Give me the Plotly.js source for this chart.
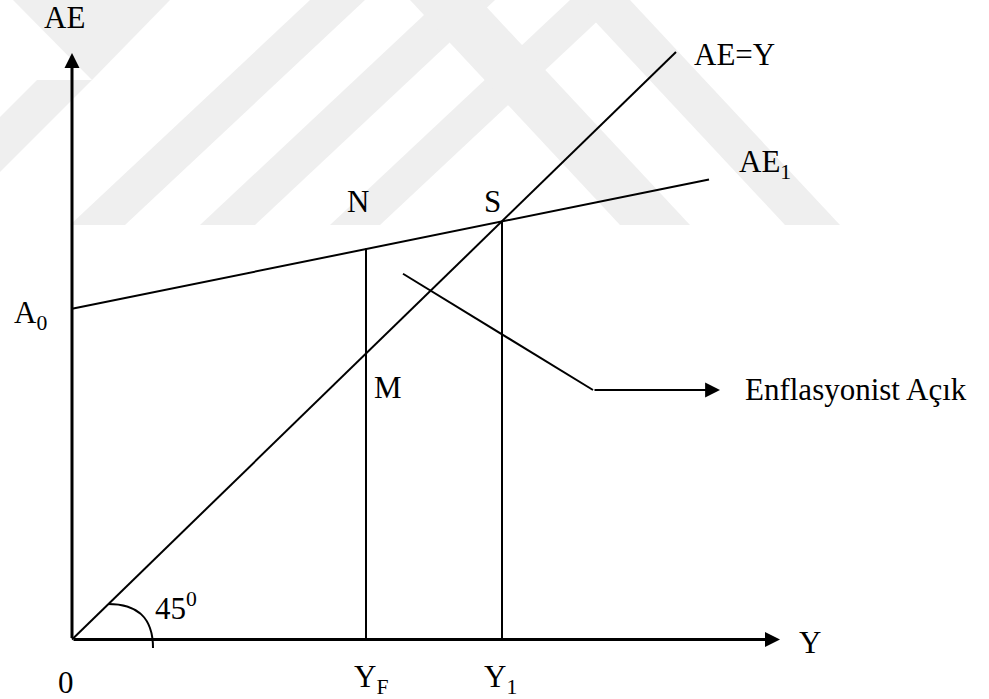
<!DOCTYPE html>
<html>
<head>
<meta charset="utf-8">
<script src="https://cdn.plot.ly/plotly-3.0.1.min.js"></script>
<style>html,body{margin:0;padding:0;background:#fff;}#chart{width:989px;height:699px;}</style>
</head>
<body>
<div id="chart"></div>
<script>
// ---- data (model units: origin at 0,0) ----
const aeYX = [0, 604];          // 45-degree line AE=Y
const aeYY = [0, 604];
const ae1X = [0, 637];          // aggregate expenditure AE1
const ae1Y = [340, 473];
const yF = 294;                 // full-employment income Y_F
const nLevel = 402;             // AE1 at Y_F (point N)
const y1 = 430;                 // equilibrium income Y_1 (point S)
const sLevel = 430;
const pointerX = [331, 521];    // pointer to "Enflasyonist Açık"
const pointerY = [376, 256.5];
const pointerTipX = 648;
const yAxisTop = 603;
const xAxisEnd = 708;
const tickLabels = ['0', 'Y<sub>F</sub>', 'Y<sub>1</sub>'];
const tickPos = [0, yF, y1];
const pointLabels = ['N', 'S', 'M'];

// ---- layout helpers (decoration only) ----
const KY = 0.9727, OX = 72, OY = 639.5;
const px2x = p => p - OX;
const py2y = p => (OY - p) / KY;
const FONT = 'Liberation Serif, Times New Roman, serif';
const FS = 31;

const line = (x, y, w) => ({x, y, type: 'scatter', mode: 'lines', hoverinfo: 'skip', showlegend: false,
  line: {color: '#000', width: w || 2}});

const traces = [
  line(aeYX, aeYY, 2),
  line(ae1X, ae1Y, 2),
  line([yF, yF], [0, nLevel], 2),
  line([y1, y1], [0, sLevel], 2),
  line(pointerX, pointerY, 2)
];

// watermark polygons (pixel coordinates)
const wm = [
  [[13,0],[170,0],[92,80]],
  [[0,117],[37,80],[92,80],[0,172]],
  [[70,225],[125,225],[365,0],[310,0]],
  [[200,225],[255,225],[495,0],[440,0]],
  [[330,225],[380,225],[620,0],[570,0]],
  [[620,225],[690,225],[480,0],[410,0]],
  [[785,225],[840,225],[630,0],[575,0]]
];
const shapes = wm.map(poly => ({
  type: 'path', xref: 'x', yref: 'y', layer: 'below', line: {width: 0}, fillcolor: '#efefef',
  path: 'M' + poly.map(p => px2x(p[0]) + ',' + py2y(p[1])).join('L') + 'Z'
}));
// 45 degree arc
shapes.push({type: 'path', xref: 'x', yref: 'y', line: {color: '#000', width: 2},
  path: `M${px2x(108)},${py2y(604)} C${px2x(136)},${py2y(604)} ${px2x(153)},${py2y(616)} ${px2x(153)},${py2y(648)}`});

const txt = (text, x, y, xanchor) => ({text, x, y, xref: 'x', yref: 'y', showarrow: false,
  xanchor: xanchor || 'center', yanchor: 'middle', font: {family: FONT, size: FS, color: '#000'}});
const arrow = (x, y, ax, ay, w, s) => ({text: '', x, y, ax, ay, xref: 'x', yref: 'y', axref: 'x', ayref: 'y',
  showarrow: true, arrowhead: 2, arrowsize: s || 1, arrowwidth: w, arrowcolor: '#000', standoff: 0});

const annotations = [
  arrow(0, yAxisTop, 0, 0, 3),
  arrow(xAxisEnd, 0, 0, 0, 3),
  arrow(pointerTipX, pointerY[1], pointerX[1], pointerY[1], 2.2, 1.35),
  txt('AE', px2x(64), py2y(17)),
  txt('A<sub>0</sub>', px2x(12), py2y(315), 'left'),
  txt(pointLabels[0], px2x(358), py2y(201)),
  txt(pointLabels[1], px2x(492), py2y(201)),
  txt(pointLabels[2], px2x(388), py2y(387)),
  txt('AE=Y', px2x(692), py2y(54), 'left'),
  txt('AE<sub>1</sub>', px2x(737), py2y(164), 'left'),
  txt('Enflasyonist Açık', px2x(743), py2y(389), 'left'),
  txt('Y', px2x(810), py2y(642)),
  txt('45<sup>0</sup>', px2x(153), py2y(606), 'left')
];
tickPos.forEach((p, i) => {
  annotations.push(txt(tickLabels[i], i === 0 ? p - 6 : (i === 1 ? p - 14 : p - 20), py2y(i === 0 ? 682 : 679), i === 0 ? 'center' : 'left'));
});

const layout = {
  width: 989, height: 699, margin: {l: 0, r: 0, t: 0, b: 0},
  paper_bgcolor: '#fff', plot_bgcolor: '#fff', showlegend: false,
  xaxis: {range: [px2x(0), px2x(989)], visible: false, fixedrange: true},
  yaxis: {range: [py2y(699), py2y(0)], visible: false, fixedrange: true},
  shapes, annotations
};
Plotly.newPlot('chart', traces, layout, {staticPlot: true, displayModeBar: false});
</script>
</body>
</html>
